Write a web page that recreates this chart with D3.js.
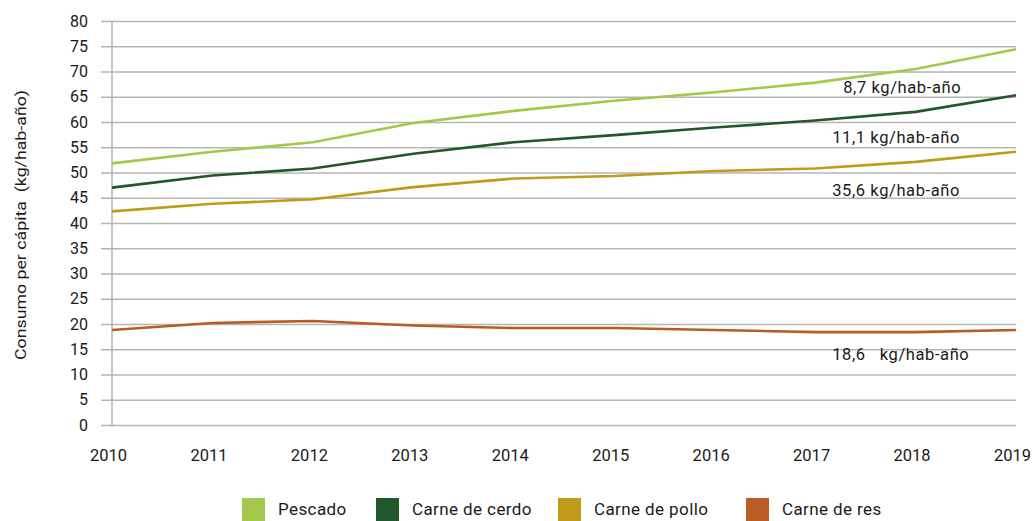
<!DOCTYPE html>
<html>
<head>
<meta charset="utf-8">
<script src="https://cdn.jsdelivr.net/npm/d3@7"></script>
<style>
  body { margin: 0; background: #fff; }
  text { font-family: Roboto, "DejaVu Sans", sans-serif; fill: #1a1a1a; }
</style>
</head>
<body>
<script>
// years on the x axis
var years = [2010, 2011, 2012, 2013, 2014, 2015, 2016, 2017, 2018, 2019];

// consumption per capita (kg/hab-año)
var pescado = [51.8, 54.1, 56.0, 59.8, 62.2, 64.2, 65.9, 67.8, 70.5, 74.4];
var cerdo   = [47.0, 49.4, 50.8, 53.7, 56.0, 57.4, 58.9, 60.3, 62.0, 65.3];
var pollo   = [42.3, 43.8, 44.7, 47.1, 48.8, 49.3, 50.3, 50.8, 52.1, 54.1];
var res     = [18.8, 20.2, 20.6, 19.7, 19.2, 19.2, 18.8, 18.4, 18.4, 18.8];

var seriesNames  = ["Pescado", "Carne de cerdo", "Carne de pollo", "Carne de res"];
var seriesColors = ["#a3c84a", "#22562c", "#c09a1b", "#b95b22"];

var yTicks = d3.range(0, 81, 5);

// annotations next to the lines: text and the value they sit at
var noteText  = ["8,7 kg/hab-año", "11,1 kg/hab-año", "35,6 kg/hab-año", "18,6\u00a0\u00a0 kg/hab-año"];
var noteYear  = [2017.28, 2017.17, 2017.17, 2017.17];
var noteValue = [65.8, 55.8, 45.3, 12.8];

var width = 1034, height = 521;
var margin = {top: 21, right: 18, bottom: 96, left: 112};

var svg = d3.select("body").append("svg")
    .attr("width", width)
    .attr("height", height);

var x = d3.scaleLinear()
    .domain([2010, 2019])
    .range([margin.left, width - margin.right]);

var y = d3.scaleLinear()
    .domain([0, 80])
    .range([height - margin.bottom, margin.top]);

// horizontal grid lines, they poke out to the left like ticks
var yAxis = d3.axisLeft(y)
    .tickValues(yTicks)
    .tickSize(-(width - margin.right - margin.left) - 11)
    .tickPadding(13)
    .tickFormat(d3.format("d"));

var gy = svg.append("g")
    .attr("transform", "translate(" + (margin.left - 11) + ",0)")
    .call(yAxis);
gy.select(".domain").remove();
gy.selectAll(".tick line")
    .attr("stroke", "#b5b5b5")
    .attr("stroke-width", 1.5);
gy.selectAll(".tick text")
    .attr("x", -13)
    .attr("font-size", 16)
    .attr("fill", "#1a1a1a");

// vertical axis line
svg.append("line")
    .attr("x1", x(2010)).attr("x2", x(2010))
    .attr("y1", y(80)).attr("y2", y(0))
    .attr("stroke", "#b5b5b5")
    .attr("stroke-width", 1.5);

// x axis labels
var xAxis = d3.axisBottom(x)
    .tickValues(years)
    .tickSize(0)
    .tickPadding(24)
    .tickFormat(d3.format("d"));

var gx = svg.append("g")
    .attr("transform", "translate(-4," + y(0) + ")")
    .call(xAxis);
gx.select(".domain").remove();
gx.selectAll(".tick text")
    .attr("font-size", 16.5)
    .attr("fill", "#1a1a1a");

// lines
var allSeries = [pescado, cerdo, pollo, res];
var line = d3.line()
    .x(function(d, i){ return x(years[i]); })
    .y(function(d){ return y(d); });

svg.selectAll(".serie")
    .data(allSeries)
    .enter()
    .append("path")
    .attr("class", "serie")
    .attr("d", line)
    .attr("fill", "none")
    .attr("stroke", function(d, i){ return seriesColors[i]; })
    .attr("stroke-width", 2.6)
    .attr("stroke-linejoin", "round");

// annotations
svg.selectAll(".note")
    .data(noteText)
    .enter()
    .append("text")
    .attr("class", "note")
    .attr("x", function(d, i){ return x(noteYear[i]); })
    .attr("y", function(d, i){ return y(noteValue[i]); })
    .attr("font-size", 16.5)
    .attr("letter-spacing", 0.6)
    .text(function(d){ return d; });

// y axis title
svg.append("text")
    .attr("transform", "translate(26,225) rotate(-90)")
    .attr("text-anchor", "middle")
    .attr("font-size", 15.5)
    .attr("textLength", 270)
    .attr("lengthAdjust", "spacingAndGlyphs")
    .text("Consumo per cápita\u00a0\u00a0(kg/hab-año)");

// legend
var legendX = [242, 376, 558, 746];
var legend = svg.selectAll(".legend")
    .data(seriesNames)
    .enter()
    .append("g")
    .attr("class", "legend")
    .attr("transform", function(d, i){ return "translate(" + legendX[i] + ",498)"; });

legend.append("rect")
    .attr("width", 23)
    .attr("height", 23)
    .attr("fill", function(d, i){ return seriesColors[i]; });

legend.append("text")
    .attr("x", 36)
    .attr("y", 17)
    .attr("font-size", 17)
    .attr("letter-spacing", 0.4)
    .text(function(d){ return d; });
</script>
</body>
</html>
